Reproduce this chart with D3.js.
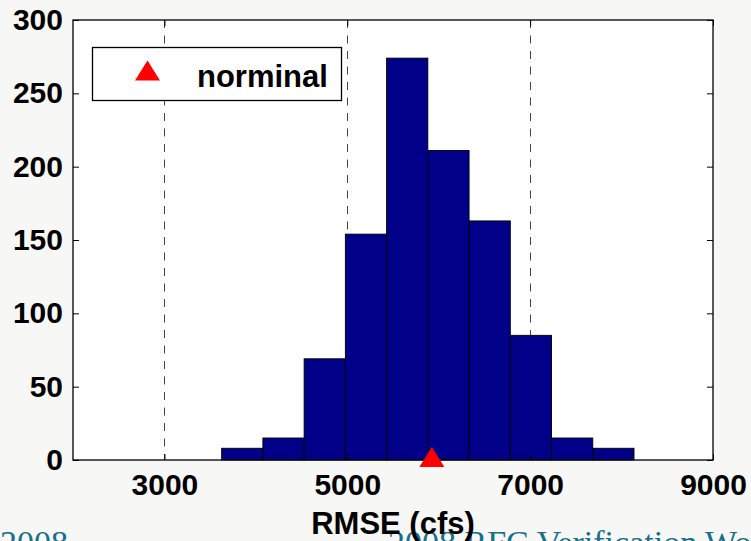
<!DOCTYPE html>
<html>
<head>
<meta charset="utf-8">
<script src="https://cdn.jsdelivr.net/npm/d3@7/dist/d3.min.js"></script>
<style>
  body { margin: 0; background: #f7f7f5; }
  svg { display: block; }
  .lbl { font-family: "Liberation Sans", Arial, sans-serif; font-weight: bold; font-size: 30px; fill: #000; }
  .foot { font-family: "Liberation Serif", "DejaVu Serif", serif; font-size: 34px; fill: #17708a; }
</style>
</head>
<body>
<div id="chart"></div>
<script>
// histogram bin edges (cfs) and counts
const binEdges = [3626, 4077, 4528, 4979, 5430, 5881, 6332, 6783, 7234, 7685, 8136];
const counts = [8, 15, 69, 154, 274, 211, 163, 85, 15, 8];
const nominal = 5925;
const xTicks = [3000, 5000, 7000, 9000];
const gridTicks = [3000, 5000, 7000];
const yTicks = [0, 50, 100, 150, 200, 250, 300];

const W = 751, H = 541;
const margin = { top: 20, right: 38, bottom: 81, left: 73 };
const innerW = W - margin.left - margin.right;
const innerH = H - margin.top - margin.bottom;

const svg = d3.select('#chart').append('svg')
  .attr('width', W)
  .attr('height', H);

// slide footer text behind the plot
svg.append('text').attr('class', 'foot')
  .attr('x', 68).attr('y', 554).attr('text-anchor', 'end')
  .text('/2008');
svg.append('text').attr('class', 'foot')
  .attr('x', 388).attr('y', 554)
  .text('2008 RFC Verification Workshop');

const g = svg.append('g')
  .attr('transform', `translate(${margin.left},${margin.top})`);

const x = d3.scaleLinear().domain([2000, 9000]).range([0, innerW]);
const y = d3.scaleLinear().domain([0, 300]).range([innerH, 0]);

g.append('rect')
  .attr('width', innerW).attr('height', innerH)
  .attr('fill', '#fff');

// dashed x grid
g.selectAll('.grid')
  .data(gridTicks)
  .enter().append('line')
  .attr('class', 'grid')
  .attr('x1', d => Math.round(x(d)) + 0.5).attr('x2', d => Math.round(x(d)) + 0.5)
  .attr('y1', 0).attr('y2', innerH)
  .attr('stroke', '#444')
  .attr('stroke-width', 1)
  .attr('stroke-dasharray', '8,7.5');

// bars
const bins = counts.map((c, i) => ({ lo: binEdges[i], hi: binEdges[i + 1], count: c }));
g.selectAll('.bar')
  .data(bins)
  .enter().append('rect')
  .attr('class', 'bar')
  .attr('x', d => x(d.lo))
  .attr('width', d => x(d.hi) - x(d.lo))
  .attr('y', d => y(d.count))
  .attr('height', d => innerH - y(d.count))
  .attr('fill', '#000088')
  .attr('stroke', '#000')
  .attr('stroke-width', 0.9);

// axes with inward ticks
const styleAxis = sel => {
  sel.select('.domain').remove();
  sel.selectAll('line').attr('stroke', '#000');
};

g.append('g')
  .attr('transform', `translate(0,${innerH})`)
  .call(d3.axisBottom(x).tickValues(xTicks).tickSizeInner(-6).tickSizeOuter(0).tickPadding(14).tickFormat(d3.format('d')))
  .call(styleAxis)
  .selectAll('text').attr('class', 'lbl').attr('font-size', null).attr('font-family', null);

g.append('g')
  .call(d3.axisTop(x).tickValues(xTicks).tickSizeInner(-6).tickSizeOuter(0).tickFormat(''))
  .call(styleAxis);

g.append('g')
  .call(d3.axisLeft(y).tickValues(yTicks).tickSizeInner(-6).tickSizeOuter(0).tickPadding(10))
  .call(styleAxis)
  .selectAll('text').attr('class', 'lbl').attr('font-size', null).attr('font-family', null);

g.append('g')
  .attr('transform', `translate(${innerW},0)`)
  .call(d3.axisRight(y).tickValues(yTicks).tickSizeInner(-6).tickSizeOuter(0).tickFormat(''))
  .call(styleAxis);

// frame
g.append('rect')
  .attr('width', innerW).attr('height', innerH)
  .attr('fill', 'none')
  .attr('stroke', '#000')
  .attr('stroke-width', 1.3);

// triangle marker, apex above centre like matlab '^'
const tri = (cx, cy) => `M${cx},${cy - 13}L${cx + 12.5},${cy + 7}L${cx - 12.5},${cy + 7}Z`;

g.append('path')
  .attr('d', tri(x(nominal), y(0)))
  .attr('fill', '#ff0000');

// x label
svg.append('text').attr('class', 'lbl')
  .attr('x', margin.left + innerW / 2).attr('y', 534)
  .attr('text-anchor', 'middle')
  .style('font-size', '31px')
  .text('RMSE (cfs)');

// legend
const leg = svg.append('g');
leg.append('rect')
  .attr('x', 92.5).attr('y', 47.5).attr('width', 249).attr('height', 53)
  .attr('fill', '#fff').attr('stroke', '#000').attr('stroke-width', 1.3);
leg.append('path')
  .attr('d', tri(147.5, 73.5))
  .attr('fill', '#ff0000');
leg.append('text').attr('class', 'lbl')
  .attr('x', 197).attr('y', 87)
  .style('font-size', '31px')
  .text('norminal');
</script>
</body>
</html>
